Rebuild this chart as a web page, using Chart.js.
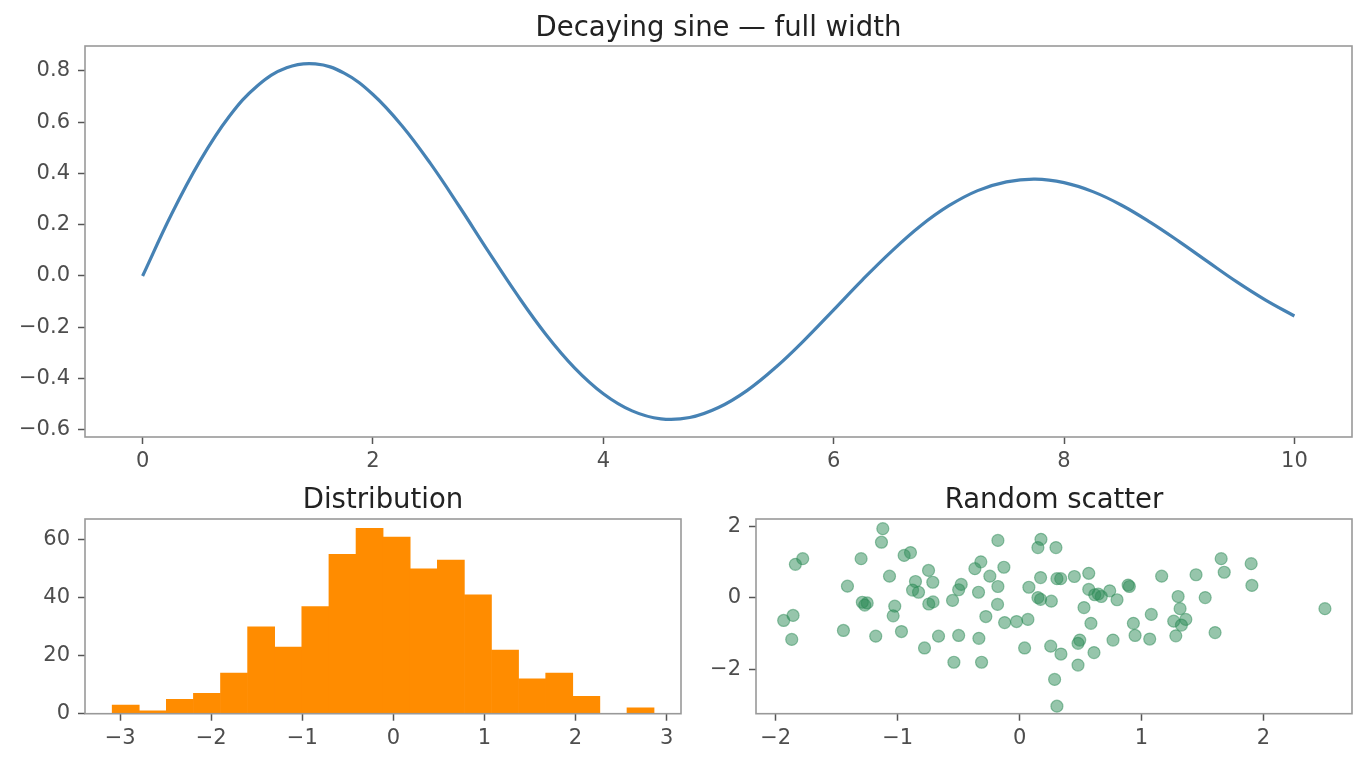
<!DOCTYPE html>
<html lang="en">
<head>
  <meta charset="UTF-8">
  <title>Decaying sine, distribution and random scatter</title>
  <script src="https://cdn.jsdelivr.net/npm/chart.js@4"></script>
  <style>
    body { margin: 0; background: #fff; }
    .wrap { position: relative; width: 1367px; height: 767px; }
    .wrap canvas { position: absolute; }
  </style>
</head>
<body>
  <div class="wrap">
    <canvas id="sineChart" width="1367" height="490" style="left:0;top:0"></canvas>
    <canvas id="histChart" width="700" height="297" style="left:0;top:470px"></canvas>
    <canvas id="scatterChart" width="667" height="297" style="left:700px;top:470px"></canvas>
  </div>

  <script>
    // --- top panel: decaying sine
    const sineX = [0, 0.25, 0.5, 0.75, 1, 1.25, 1.5, 1.75, 2, 2.25, 2.5, 2.75, 3, 3.25, 3.5, 3.75,
      4, 4.25, 4.5, 4.75, 5, 5.25, 5.5, 5.75, 6, 6.25, 6.5, 6.75, 7, 7.25, 7.5, 7.75,
      8, 8.25, 8.5, 8.75, 9, 9.25, 9.5, 9.75, 10];
    const sineY = [0, 0.240, 0.450, 0.621, 0.743, 0.812, 0.827, 0.791, 0.708, 0.587, 0.438, 0.271,
      0.097, -0.072, -0.227, -0.358, -0.459, -0.526, -0.557, -0.552, -0.513, -0.446, -0.355, -0.248,
      -0.132, -0.015, 0.095, 0.194, 0.274, 0.333, 0.367, 0.378, 0.364, 0.329, 0.276, 0.209,
      0.134, 0.055, -0.023, -0.094, -0.156];
    const sineXTicks = [0, 2, 4, 6, 8, 10];
    const sineYTicks = [-0.6, -0.4, -0.2, 0, 0.2, 0.4, 0.6, 0.8];

    // --- bottom left: histogram (20 bins)
    const histEdges = [-3.088, -2.790, -2.493, -2.196, -1.898, -1.601, -1.303, -1.006, -0.708, -0.410,
      -0.113, 0.185, 0.482, 0.780, 1.077, 1.375, 1.672, 1.970, 2.267, 2.565, 2.862];
    const histCounts = [3, 1, 5, 7, 14, 30, 23, 37, 55, 64, 61, 50, 53, 41, 22, 12, 14, 6, 0, 2];
    const histXTicks = [-3, -2, -1, 0, 1, 2, 3];
    const histYTicks = [0, 20, 40, 60];

    // --- bottom right: scatter
    const scatterX = [-1.122, -1.133, -1.779, -1.839, -1.300, -0.947, -0.895, -1.067, -0.747, -1.412,
      -0.854, -0.712, -0.878, -0.829, -0.479, -0.500, -0.550, -1.290, -1.270, -1.250,
      -1.024, -1.037, -0.745, -0.710, -1.858, -1.935, -1.869, -1.445, -1.180, -0.969,
      -0.665, -0.780, -0.539, -0.500, -0.178, 0.175, 0.150, 0.298, -0.318, -0.367,
      -0.129, -0.244, -0.178, -0.337, -0.181, -0.277, -0.123, -0.025, 0.068, 0.076,
      0.172, 0.150, 0.172, 0.260, 0.306, 0.337, 0.449, 0.567, 0.567, 0.616,
      0.645, 0.670, 0.739, 0.799, 0.890, 0.900, 0.528, 0.585, 0.493, 0.479,
      0.610, 0.479, 0.766, 0.933, 0.947, 1.080, 1.067, 1.165, 0.041, 0.255,
      0.339, 0.287, 0.306, -0.312, -0.334, 1.653, 1.678, 1.899, 1.905, 1.447,
      1.300, 1.522, 1.316, 1.264, 1.363, 1.327, 1.281, 1.603, 2.504];
    const scatterY = [1.94, 1.56, 1.10, 0.94, 1.10, 1.19, 1.27, 0.61, 0.77, 0.33,
      0.46, 0.44, 0.22, 0.16, 0.38, 0.23, -0.07, -0.12, -0.20, -0.14,
      -0.23, -0.50, -0.17, -0.11, -0.49, -0.63, -1.16, -0.91, -1.07, -0.94,
      -1.07, -1.40, -1.80, -1.05, 1.61, 1.64, 1.41, 1.41, 1.01, 0.82,
      0.86, 0.61, 0.32, 0.16, -0.18, -0.52, -0.69, -0.66, -0.60, 0.30,
      0.57, 0.01, -0.04, -0.09, 0.54, 0.54, 0.60, 0.69, 0.24, 0.09,
      0.11, 0.04, 0.20, -0.05, 0.36, 0.32, -0.27, -0.71, -1.18, -1.27,
      -1.53, -1.88, -1.18, -0.71, -1.05, -0.46, -1.15, 0.61, -1.40, -1.35,
      -1.57, -2.28, -3.03, -1.80, -1.13, 1.10, 0.72, 0.96, 0.35, 0.65,
      0.04, 0.01, -0.30, -0.65, -0.60, -0.76, -1.06, -0.97, -0.30];
    const scatterXTicks = [-2, -1, 0, 1, 2];
    const scatterYTicks = [-2, 0, 2];

    Chart.defaults.font.family = '"DejaVu Sans", sans-serif';
    Chart.defaults.animation = false;
    Chart.defaults.plugins.legend.display = false;
    Chart.defaults.plugins.tooltip.enabled = false;

    const SPINE = '#999';
    const TICK = '#555';

    // draws all four spines round the plot area
    const framePlugin = {
      id: 'frame',
      afterDraw(chart) {
        const { ctx, chartArea: a } = chart;
        ctx.save();
        ctx.strokeStyle = SPINE;
        ctx.lineWidth = 1.6;
        ctx.strokeRect(a.left, a.top, a.right - a.left, a.bottom - a.top);
        ctx.restore();
      }
    };

    const withMinus = (digits) => (v) => (v < 0 ? '\u2212' : '') + Math.abs(v).toFixed(digits);

    function axis(min, max, tickList, fmt, pad, fit) {
      return {
        type: 'linear',
        min: min,
        max: max,
        offset: false,
        afterBuildTicks: (s) => { s.ticks = tickList.map(v => ({ value: v })); },
        afterFit: fit,
        border: { display: false },
        grid: {
          display: true, drawOnChartArea: false, drawTicks: true, offset: false,
          tickLength: 7, tickWidth: 1.5, tickColor: TICK
        },
        ticks: {
          color: '#4d4d4d', font: { size: 21 }, padding: pad,
          callback: fmt, maxRotation: 0, autoSkip: false
        }
      };
    }

    // title centred over the plot area, not the whole canvas
    function title(text, top, bottom) {
      return {
        display: true, text: text, color: '#222', fullSize: false,
        font: { size: 27.5, weight: 'normal' },
        padding: { top: top, bottom: bottom }
      };
    }

    // Top: decaying sine
    new Chart(document.getElementById('sineChart'), {
      type: 'line',
      data: {
        datasets: [{
          data: sineX.map((x, i) => ({ x: x, y: sineY[i] })),
          borderColor: '#4682b4',
          borderWidth: 3.2,
          pointRadius: 0,
          tension: 0.4,
          fill: false
        }]
      },
      options: {
        responsive: false,
        layout: { padding: { left: 0, right: 15, top: 0, bottom: 0 } },
        plugins: { title: title('Decaying sine \u2014 full width', 12.3, 0.7) },
        scales: {
          x: axis(-0.5, 10.5, sineXTicks, withMinus(0), 5, s => { s.height = 53; }),
          y: axis(-0.628, 0.897, sineYTicks, withMinus(1), 8, s => { s.width = 85; })
        }
      },
      plugins: [framePlugin]
    });

    // Bottom left: histogram
    new Chart(document.getElementById('histChart'), {
      type: 'bar',
      data: {
        datasets: [{
          data: histCounts.map((c, i) => ({ x: (histEdges[i] + histEdges[i + 1]) / 2, y: c })),
          backgroundColor: '#ff8c00',
          borderWidth: 0,
          barPercentage: 1,
          categoryPercentage: 1
        }]
      },
      options: {
        responsive: false,
        layout: { padding: { left: 0, right: 19, top: 0, bottom: 0 } },
        plugins: { title: title('Distribution', 14.6, 1.4) },
        scales: {
          x: axis(-3.386, 3.158, histXTicks, withMinus(0), 5, s => { s.height = 53.3; }),
          y: axis(0, 67.2, histYTicks, withMinus(0), 8, s => { s.width = 85; })
        }
      },
      plugins: [framePlugin]
    });

    // Bottom right: scatter
    new Chart(document.getElementById('scatterChart'), {
      type: 'scatter',
      data: {
        datasets: [{
          data: scatterX.map((x, i) => ({ x: x, y: scatterY[i] })),
          backgroundColor: 'rgba(46, 139, 87, 0.5)',
          borderColor: 'rgba(46, 139, 87, 0.5)',
          borderWidth: 1.2,
          pointRadius: 6
        }]
      },
      options: {
        responsive: false,
        layout: { padding: { left: 0, right: 15, top: 0, bottom: 0 } },
        plugins: { title: title('Random scatter', 14.6, 1.4) },
        scales: {
          x: axis(-2.162, 2.726, scatterXTicks, withMinus(0), 5, s => { s.height = 53.3; }),
          y: axis(-3.24, 2.21, scatterYTicks, withMinus(0), 8, s => { s.width = 56; })
        }
      },
      plugins: [framePlugin]
    });
  </script>
</body>
</html>
